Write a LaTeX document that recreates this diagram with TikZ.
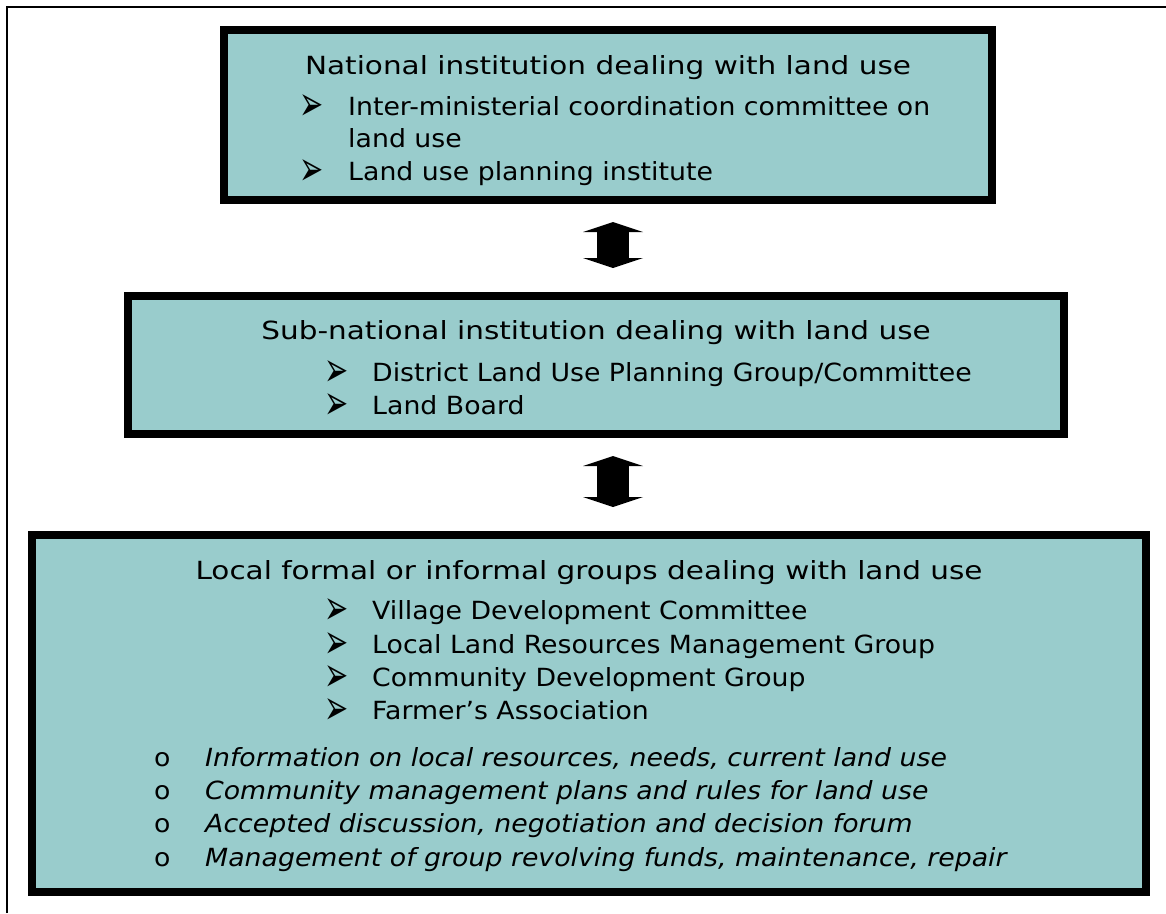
\documentclass[tikz,border=0pt]{standalone}
\usepackage{fontspec}
\setmainfont{DejaVu Sans}[FakeStretch=1.07]
\newfontfamily\titlefont{DejaVu Sans}[FakeStretch=1.18]
\usetikzlibrary{arrows.meta}
\definecolor{boxteal}{HTML}{99CCCC}
\newcommand{\txtsize}{\fontsize{25}{30}\selectfont}
\newcommand{\arrowbullet}{\smash{\scalebox{1}[1.8]{➢}}}
\begin{document}
\begin{tikzpicture}[x=1pt,y=-1pt,
  panel/.style={draw=black,line width=8pt,fill=boxteal,inner sep=0pt},
  titletext/.style={anchor=base,inner sep=0pt,font=\titlefont\txtsize},
  linetext/.style={anchor=base west,inner sep=0pt,font=\txtsize},
  itext/.style={anchor=base west,inner sep=0pt,font=\txtsize\itshape},
  bulletmark/.style={anchor=base west,inner sep=0pt,font=\fontsize{27}{30}\selectfont},
  frameline/.style={draw=black,line width=2pt},
  dblarrow/.style={line width=32pt,
    {Triangle[width=60pt,length=10pt,line width=0pt]}-{Triangle[width=60pt,length=10pt,line width=0pt]},
    shorten <=18pt, shorten >=24pt}
]
\useasboundingbox (0,0) rectangle (1166,913);
\draw[frameline] (7,913) -- (7,7) -- (1166,7);

% boxes
\node[panel,minimum width=768pt,minimum height=170pt] (box1) at (608,115) {};
\node[panel,minimum width=936pt,minimum height=138pt] (box2) at (596,365) {};
\node[panel,minimum width=1114pt,minimum height=357pt] (box3) at (589,713.5) {};

% box 1 text
\node[titletext] (t1) at (608,74) {National institution dealing with land use};
\node[bulletmark] (b11) at (299,120) {\arrowbullet};
\node[linetext] (l11) at (348,115) {Inter-ministerial coordination committee on};
\node[linetext] (l12) at (348,147) {land use};
\node[bulletmark] (b12) at (299,185) {\arrowbullet};
\node[linetext] (l13) at (348,180) {Land use planning institute};

% box 2 text
\node[titletext] (t2) at (596,339) {Sub-national institution dealing with land use};
\node[bulletmark] (b21) at (324,386) {\arrowbullet};
\node[linetext] (l21) at (372,381) {District Land Use Planning Group/Committee};
\node[bulletmark] (b22) at (324,419) {\arrowbullet};
\node[linetext] (l22) at (372,414) {Land Board};

% box 3 text
\node[titletext] (t3) at (589,579) {Local formal or informal groups dealing with land use};
\node[bulletmark] (b31) at (324,624) {\arrowbullet};
\node[linetext] (l31) at (372,619) {Village Development Committee};
\node[bulletmark] (b32) at (324,658) {\arrowbullet};
\node[linetext] (l32) at (372,653) {Local Land Resources Management Group};
\node[bulletmark] (b33) at (324,691) {\arrowbullet};
\node[linetext] (l33) at (372,686) {Community Development Group};
\node[bulletmark] (b34) at (324,724) {\arrowbullet};
\node[linetext] (l34) at (372,719) {Farmer’s Association};

\node[linetext] (o1) at (154,766) {o};
\node[itext] (i1) at (205,766) {Information on local resources, needs, current land use};
\node[linetext] (o2) at (154,799) {o};
\node[itext] (i2) at (205,799) {Community management plans and rules for land use};
\node[linetext] (o3) at (154,832) {o};
\node[itext] (i3) at (205,832) {Accepted discussion, negotiation and decision forum};
\node[linetext] (o4) at (154,866) {o};
\node[itext] (i4) at (205,866) {Management of group revolving funds, maintenance, repair};

% arrows
\coordinate (ax) at (613,0);
\draw[dblarrow] (box1.south -| ax) -- (box2.north -| ax);
\draw[dblarrow] (box2.south -| ax) -- (box3.north -| ax);
\end{tikzpicture}
\end{document}
